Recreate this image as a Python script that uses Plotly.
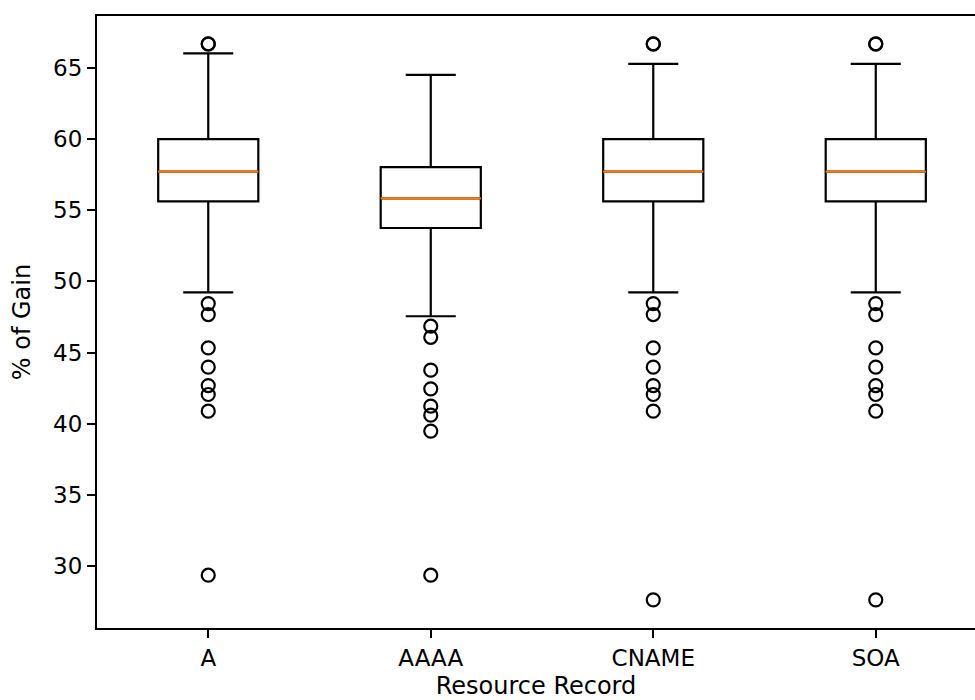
import plotly.graph_objects as go

categories = ["A", "AAAA", "CNAME", "SOA"]
positions = [1, 2, 3, 4]
q1_vals = [55.62, 53.75, 55.62, 55.62]
median_vals = [57.72, 55.83, 57.72, 57.72]
q3_vals = [60.0, 58.03, 60.0, 60.0]
lower_whisker = [49.23, 47.55, 49.23, 49.23]
upper_whisker = [66.03, 64.51, 65.28, 65.28]
outliers = {
    "A": [66.68, 66.70, 48.44, 47.67, 45.33, 43.97, 42.68, 42.05, 40.88, 29.35],
    "AAAA": [46.85, 46.07, 43.76, 42.45, 41.23, 40.60, 39.48, 29.35],
    "CNAME": [66.68, 66.70, 48.44, 47.67, 45.33, 43.97, 42.68, 42.05, 40.88, 27.62],
    "SOA": [66.68, 66.70, 48.44, 47.67, 45.33, 43.97, 42.68, 42.05, 40.88, 27.62],
}
y_ticks = [30, 35, 40, 45, 50, 55, 60, 65]

BOX_W = 0.45
LW = 2.2
FONT = "DejaVu Sans"

fig = go.Figure()
for cat, pos, q1, med, q3, lo, hi in zip(categories, positions, q1_vals, median_vals,
                                         q3_vals, lower_whisker, upper_whisker):
    fig.add_trace(go.Box(
        x=[pos], q1=[q1], median=[med], q3=[q3], lowerfence=[lo], upperfence=[hi],
        boxpoints=False, width=BOX_W, whiskerwidth=0.5,
        line=dict(color="black", width=LW), fillcolor="rgba(0,0,0,0)",
        showlegend=False, name=cat, hoverinfo="skip",
    ))
    fig.add_trace(go.Scatter(
        x=[pos - BOX_W / 2, pos + BOX_W / 2], y=[med, med], mode="lines",
        line=dict(color="#ff7f0e", width=LW), showlegend=False, hoverinfo="skip",
    ))
    pts = outliers[cat]
    fig.add_trace(go.Scatter(
        x=[pos] * len(pts), y=pts, mode="markers",
        marker=dict(symbol="circle-open", size=13, color="black", line=dict(width=LW)),
        showlegend=False, hoverinfo="skip",
    ))

fig.update_layout(
    width=975, height=700,
    margin=dict(l=97, r=0, t=16, b=72),
    paper_bgcolor="white", plot_bgcolor="white",
    font=dict(family=FONT, size=23, color="black"),
)
fig.update_xaxes(
    range=[0.5, 4.446], tickvals=positions, ticktext=categories,
    showline=True, linecolor="black", linewidth=LW, mirror=True,
    ticks="outside", ticklen=8, tickwidth=LW, tickcolor="black",
    showgrid=False, zeroline=False,
    title=dict(text="Resource Record", font=dict(family=FONT, size=24), standoff=10),
    automargin=False,
)
fig.update_yaxes(
    range=[25.64, 68.65], tickvals=y_ticks,
    showline=True, linecolor="black", linewidth=LW,
    ticks="outside", ticklen=8, tickwidth=LW, tickcolor="black",
    showgrid=False, zeroline=False,
    title=dict(text="% of Gain", font=dict(family=FONT, size=24), standoff=16),
    automargin=False,
)

fig.write_html("out.html")
